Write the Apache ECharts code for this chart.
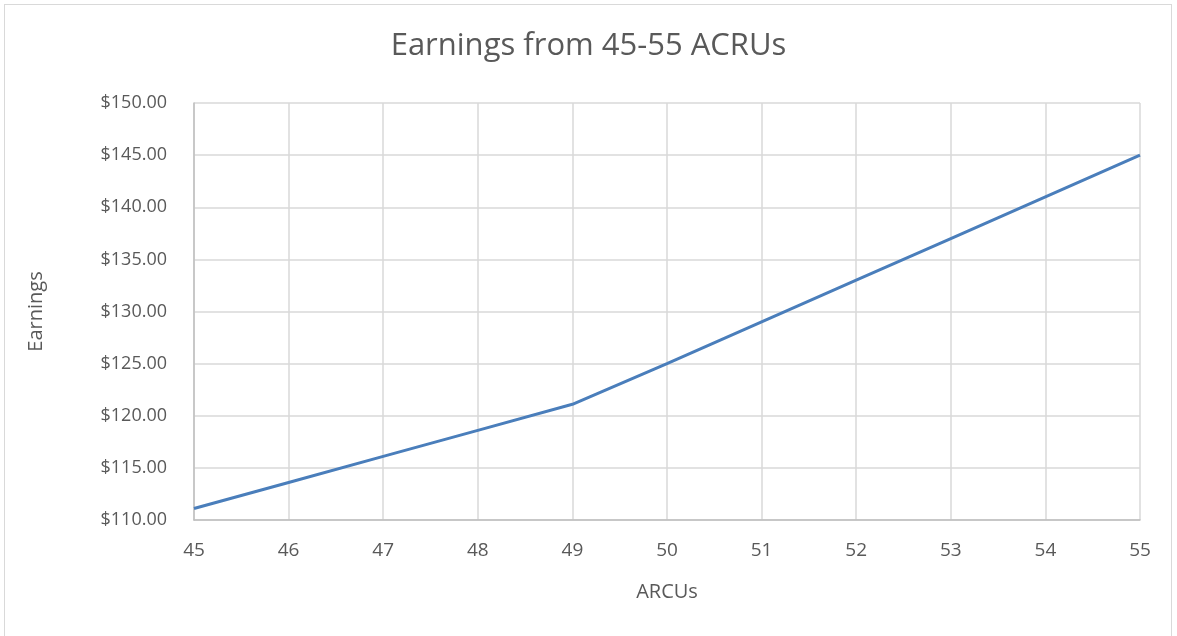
<!DOCTYPE html>
<html><head><meta charset="utf-8">
<script src="https://cdn.jsdelivr.net/npm/echarts@6/dist/echarts.min.js"></script>
<style>
html,body{margin:0;padding:0;background:#fff;}
#wrap{position:absolute;left:4px;top:4px;width:1168px;height:640px;border:1px solid #d9d9d9;box-sizing:border-box;}
#c{position:absolute;left:0;top:0;width:1177px;height:636px;}
</style></head>
<body>
<div id="wrap"></div>
<div id="c"></div>
<script>
const titleText = 'Earnings from 45-55 ACRUs';
const xName = 'ARCUs';
const yName = 'Earnings';
const arcus = [45, 46, 47, 48, 49, 50, 51, 52, 53, 54, 55];
const earnings = [111.1, 113.6, 116.1, 118.6, 121.1, 125.0, 129.0, 133.0, 137.0, 141.0, 145.0];

const font = 'Open Sans';
const chart = echarts.init(document.getElementById('c'));
chart.setOption({
  animation: false,
  title: {text: titleText, left: 'center', top: 26,
    textStyle: {fontFamily: font, fontSize: 31, fontWeight: 'normal', color: '#595959'}},
  grid: {left: 194, right: 37, top: 103, bottom: 116},
  xAxis: {type: 'value', min: 45, max: 55, interval: 1,
    name: xName, nameLocation: 'middle', nameGap: 62,
    nameTextStyle: {fontFamily: font, fontSize: 20, color: '#595959'},
    axisLine: {lineStyle: {color: '#bfbfbf', width: 1.5}},
    axisTick: {show: false},
    axisLabel: {fontFamily: font, fontSize: 19, color: '#595959', margin: 21},
    splitLine: {lineStyle: {color: '#d9d9d9', width: 1.5}}},
  yAxis: {type: 'value', min: 110, max: 150, interval: 5,
    name: yName, nameLocation: 'middle', nameGap: 148, nameRotate: 90,
    nameTextStyle: {fontFamily: font, fontSize: 20, color: '#595959'},
    axisLine: {show: true, lineStyle: {color: '#bfbfbf', width: 1.5}},
    axisTick: {show: false},
    axisLabel: {fontFamily: font, fontSize: 18, color: '#595959', margin: 27,
      formatter: v => '$' + v.toFixed(2)},
    splitLine: {lineStyle: {color: '#d9d9d9', width: 1.5}}},
  series: [{type: 'line', data: arcus.map((x, i) => [x, earnings[i]]),
    showSymbol: false, lineStyle: {color: '#4a7ebb', width: 3}, itemStyle: {color: '#4a7ebb'}}]
});
</script>
</body></html>
